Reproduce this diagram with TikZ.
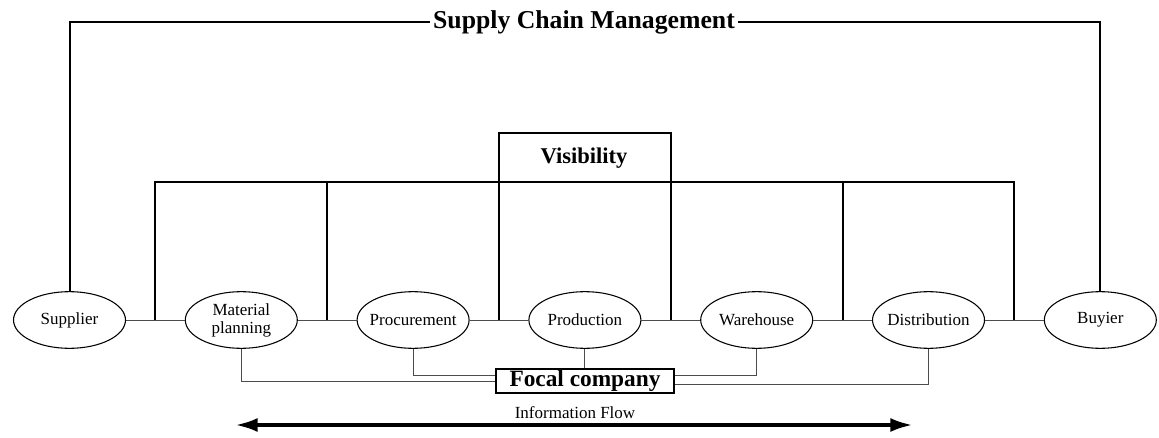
\documentclass[tikz,border=0pt]{standalone}
\usepackage{fontspec}
\setmainfont{Liberation Serif}
\usetikzlibrary{shapes.geometric}
\usetikzlibrary{calc}
\usetikzlibrary{arrows.meta}

\begin{document}
\begin{tikzpicture}[
		stage/.style={ellipse,draw,line width=0.8pt,minimum width=84pt,minimum height=42.5pt,inner xsep=-12pt,inner ysep=0pt,align=center,font=\fontsize{12.75}{13.5}\selectfont},
		bar/.style={line width=1.5pt},
		link/.style={line width=0.75pt,black!70},
		focalbox/.style={draw,line width=1.3pt,minimum width=133pt,minimum height=18.2pt,inner sep=0pt,font=\fontsize{17.5}{18}\bfseries\selectfont},
		>={Latex[length=17pt,width=10.5pt]},
		x=0.75pt,y=-0.75pt]
	\useasboundingbox (0,0) rectangle (1159,438);
	%% define stages
	\node (sup) at (69.5,320) [stage] {Supplier};
	\node (mat) at (241.3,320) [stage] {Material\\planning};
	\node (pro) at (413.1,320) [stage] {Procurement};
	\node (prd) at (584.9,320) [stage] {Production};
	\node (war) at (756.7,320) [stage] {Warehouse};
	\node (dis) at (928.5,320) [stage] {Distribution};
	\node (buy) at (1100.3,320) [stage] {Buyier};
	\draw[link] (sup) -- (mat);
	\draw[link] (mat) -- (pro);
	\draw[link] (pro) -- (prd);
	\draw[link] (prd) -- (war);
	\draw[link] (war) -- (dis);
	\draw[link] (dis) -- (buy);
	%% supply chain management
	\node (scm) at (584,22) [inner sep=2pt,font=\fontsize{19.3}{20}\bfseries\selectfont] {Supply Chain Management};
	\draw[bar] (sup.north) |- (scm.west);
	\draw[bar] (buy.north) |- (scm.east);
	%% visibility
	\coordinate (band) at (0,182);
	\coordinate (vtop) at (0,133);
	\coordinate (j1) at ($(sup.east)!0.5!(mat.west)$);
	\coordinate (j2) at ($(mat.east)!0.5!(pro.west)$);
	\coordinate (j3) at ($(pro.east)!0.5!(prd.west)$);
	\coordinate (j4) at ($(prd.east)!0.5!(war.west)$);
	\coordinate (j5) at ($(war.east)!0.5!(dis.west)$);
	\coordinate (j6) at ($(dis.east)!0.5!(buy.west)$);
	\node (vis) at (584,158) [font=\fontsize{16.9}{17}\bfseries\selectfont] {Visibility};
	\draw[bar] (j1) -- (j1 |- band) -- (j6 |- band) -- (j6);
	\draw[bar] (j2) -- (j2 |- band);
	\draw[bar] (j5) -- (j5 |- band);
	\draw[bar] (j3) -- (j3 |- vtop) -- (j4 |- vtop) -- (j4);
	%% focal company
	\node (foc) at (585,381) [focalbox] {Focal company};
	\draw[link] (mat.south) |- (foc.west);
	\draw[link] (pro.south) |- ($(foc.west)+(0,-6)$);
	\draw[link] (prd.south) -- (prd.south |- foc.north);
	\draw[link] (war.south) |- ($(foc.east)+(0,-6)$);
	\draw[link] (dis.south) |- ($(foc.east)+(0,3)$);
	%% information flow
	\node (info) at (575,413) [font=\fontsize{12.75}{13}\selectfont] {Information Flow};
	\coordinate (fl) at (235,425);
	\coordinate (fr) at (913,425);
	\draw[<->,line width=3pt] (fl) -- (fr);
\end{tikzpicture}
\end{document}
